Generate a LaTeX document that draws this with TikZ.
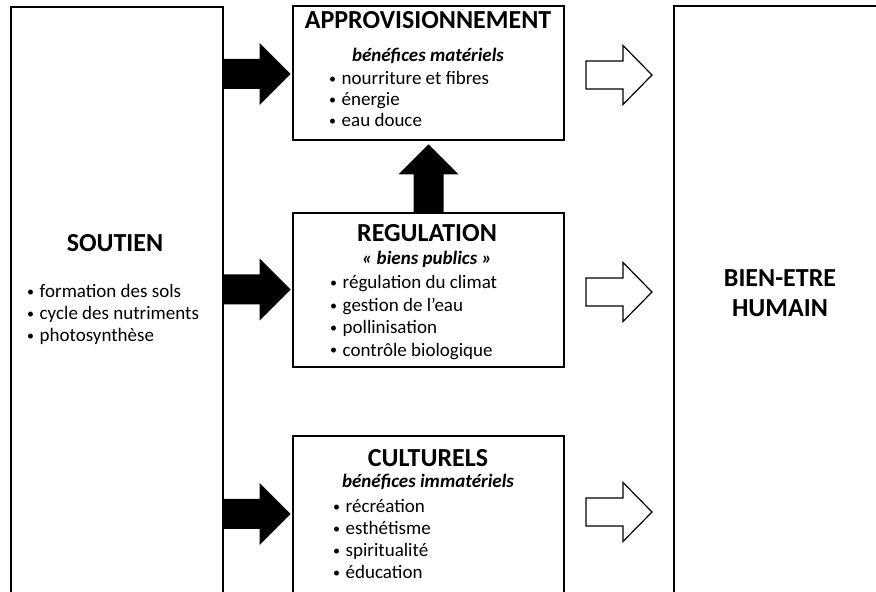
\documentclass[tikz,border=0pt]{standalone}
\usepackage{fontspec}
\setmainfont{Carlito}
\usetikzlibrary{positioning}

\newcommand\puce{\makebox[12.5pt][l]{\raisebox{1.2pt}{\fontsize{14}{14}\selectfont•}}}

\tikzset{
  box/.style={draw, line width=1.4pt, inner sep=0pt},
  title/.style={font=\fontsize{26}{30}\selectfont\bfseries, anchor=base, inner sep=0pt},
  sub/.style={font=\fontsize{19}{22}\selectfont\bfseries\itshape, anchor=base, inner sep=0pt},
  item/.style={font=\fontsize{19}{22}\selectfont, anchor=base west, inner sep=0pt},
  full/.style={fill=black},
  hollow/.style={draw, fill=white, line width=1.2pt, line join=miter}
}

\begin{document}
\begin{tikzpicture}[x=1pt, y=1pt]
\useasboundingbox (0,0) rectangle (876,592);
\clip (0,0) rectangle (876,592);

% the five boxes
\node[box, minimum width=212pt, minimum height=595pt] (soutien) at (117,287.5) {};
\node[box, minimum width=271pt, minimum height=134pt] (appro) at (428.5,519) {};
\node[box, minimum width=271pt, minimum height=154pt] (regul) at (428.5,302) {};
\node[box, minimum width=271pt, minimum height=166pt] (cultu) at (428.5,73) {};
\node[box, minimum width=212pt, minimum height=596pt] (bien) at (780,288) {};

% black arrows soutien -> services
\foreach \y in {518, 302.5, 78}
  \fill[full] (soutien.east |- 0,\y) ++(0,15) -- ++(36,0) -- ++(0,16) -- ++(31,-31)
    -- ++(-31,-31) -- ++(0,16) -- ++(-36,0) -- cycle;

% regulation -> approvisionnement
\fill[full] (regul.north) ++(-15,0) -- ++(0,38) -- ++(-15,0) -- ++(30,30)
  -- ++(30,-30) -- ++(-15,0) -- ++(0,-38) -- cycle;

% white arrows services -> bien-etre
\foreach \y in {517, 300, 80}
  \draw[hollow] (586,\y) ++(0,14) -- ++(37,0) -- ++(0,15.5) -- ++(29,-29.5)
    -- ++(-29,-29.5) -- ++(0,15.5) -- ++(-37,0) -- cycle;

% soutien
\node[title] (soutienT) at (115,340) {SOUTIEN};
\foreach \t [count=\i] in {formation des sols, cycle des nutriments, photosynthèse}
  \node[item] (s\i) at (27,{316-22*\i}) {\puce\t};

% approvisionnement
\node[title] (apT) at (428,563) {APPROVISIONNEMENT};
\node[sub] (apS) at (428,530) {bénéfices matériels};
\foreach \t [count=\i] in {nourriture et fibres, énergie, eau douce}
  \node[item] (a\i) at (329,{528-21*\i}) {\puce\t};

% regulation
\node[title] (reT) at (427,350) {REGULATION};
\node[sub] (reS) at (427,327) {« biens publics »};
\foreach \t [count=\i] in {régulation du climat, gestion de l’eau, pollinisation, contrôle biologique}
  \node[item] (r\i) at (330,{325.5-22.4*\i}) {\puce\t};

% culturels
\node[title] (cuT) at (428,125) {CULTURELS};
\node[sub] (cuS) at (428,104) {bénéfices immatériels};
\foreach \t [count=\i] in {récréation, esthétisme, spiritualité, éducation}
  \node[item] (c\i) at (333,{101-22*\i}) {\puce\t};

% bien-etre
\node[title] (bienT) at (780,305) {BIEN-ETRE};
\node[title] (bienH) at (780,275) {HUMAIN};
\end{tikzpicture}
\end{document}
